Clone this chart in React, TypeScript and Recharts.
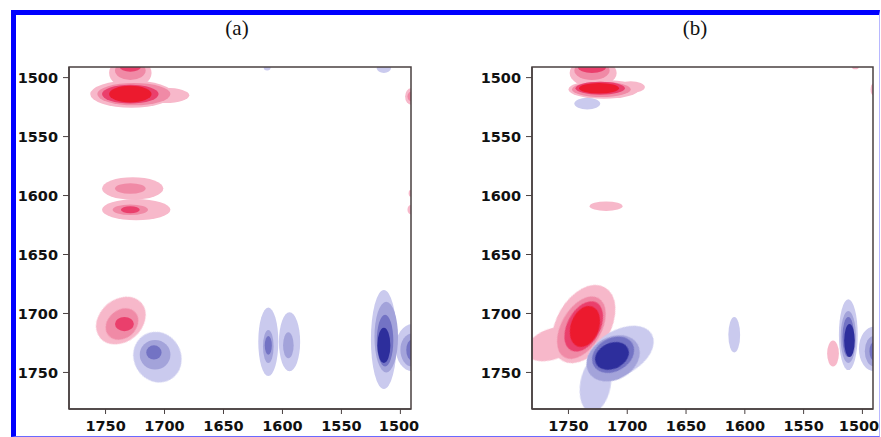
import React from "react";
import { ScatterChart, Scatter, XAxis, YAxis, ReferenceArea } from "recharts";

const axisTicks = [1750, 1700, 1650, 1600, 1550, 1500];
const axisDomain: [number, number] = [1491, 1781];

// one contour = [x (cm-1), y (cm-1), half-width, half-height, level (+ red / - blue), tilt deg]
type Contour = [number, number, number, number, number, number?];

// (a) synchronous-like map
const contoursA: Contour[] = [
  // 1514 red band + neck to top
  [1728, 1514, 35, 11.5, 1],
  [1699, 1515, 20, 6.5, 1],
  [1729, 1496, 18, 13, 1],
  [1726, 1514, 31, 9.5, 2],
  [1729, 1494, 13, 8, 2],
  [1729, 1514, 24, 8, 3],
  [1729, 1491, 9, 4, 3],
  [1729, 1514, 18, 7, 4],
  // 1594 / 1612 red pair
  [1727, 1594, 26, 9.5, 1],
  [1724, 1612, 29, 9, 1],
  [1729, 1594, 13, 4.5, 2],
  [1729, 1612, 15, 4.5, 2],
  [1729, 1612, 8, 3, 3],
  // 1709 red
  [1737, 1706, 23, 18, 1, -40],
  [1736, 1709, 15, 12, 2, -40],
  [1734, 1709, 8, 6, 3],
  // 1735 blue
  [1706, 1737, 20, 22, -1, -30],
  [1708, 1735, 13, 12.5, -2],
  [1709, 1733, 6.5, 6, -3],
  // 1612 / 1594 blue pair
  [1612, 1724, 8.5, 29, -1],
  [1594, 1724, 9, 25, -1],
  [1612, 1728, 4.5, 14, -2],
  [1595, 1727, 4.5, 11, -2],
  [1612, 1727, 3, 8, -3],
  // 1513 blue + shoulder to edge
  [1514, 1722, 11, 42, -1],
  [1490, 1729, 14, 20, -1],
  [1512, 1720, 10, 30, -2],
  [1490, 1731, 10, 14, -2],
  [1513, 1723, 7, 22, -3],
  [1490, 1731, 5, 9, -3],
  [1514, 1727, 5.5, 15, -4],
  // small bits
  [1613, 1491, 3, 3, -1],
  [1514, 1492, 6, 4, -1],
  [1491, 1516, 5, 7, 1],
  [1491, 1516, 3, 4, 2],
  [1491, 1598, 2, 3, 1],
  [1491, 1612, 3, 4, 1],
];

// (b) asynchronous-like map
const contoursB: Contour[] = [
  // 1510 red + neck
  [1720, 1510, 30, 8, 1],
  [1729, 1496, 20, 12, 1],
  [1697, 1508, 12, 5, 1],
  [1722, 1510, 25, 6.5, 2],
  [1730, 1494, 15, 8, 2],
  [1723, 1509, 21, 5.5, 3],
  [1730, 1491, 12, 5, 3],
  [1724, 1509, 17, 4.5, 4],
  // 1522 blue, 1609 red
  [1734, 1522, 11, 5, -1],
  [1718, 1609, 14, 4, 1],
  // 1710 red with tail to the left
  [1737, 1709, 23, 36, 1, 30],
  [1764, 1726, 23, 13, 1, -20],
  [1739, 1712, 17, 29, 2, 30],
  [1737, 1711, 14, 23, 3, 28],
  [1736, 1711, 12, 18, 4, 20],
  // 1735 blue with tail down
  [1706, 1733, 31, 19, -1, -30],
  [1727, 1760, 13, 24, -1, 10],
  [1712, 1738, 24, 18, -2, -30],
  [1712, 1735, 19, 14, -3, -30],
  [1713, 1736, 15, 11, -4, -25],
  // small ones
  [1609, 1718, 5, 15, -1],
  [1525, 1734, 5, 11, 1],
  // 1512 blue + shoulder
  [1512, 1718, 8, 30, -1],
  [1490, 1730, 13, 19, -1],
  [1512, 1720, 6.5, 22, -2],
  [1490, 1732, 8, 13, -2],
  [1512, 1720, 5, 17, -3],
  [1490, 1732, 4, 8, -3],
  [1511, 1723, 4.5, 14, -4],
  [1506, 1491, 3, 2, 1],
  [1491, 1510, 2, 5, 1],
];

const redLevels = ["#f7b8ca", "#f08aa6", "#ea3f6c", "#ec1a2e"];
const blueLevels = ["#cacaee", "#a3a3da", "#7373c4", "#2d2e9c"];

const levelColor = (lv: number) =>
  lv > 0 ? redLevels[lv - 1] : blueLevels[-lv - 1];

// ellipse drawn inside the rect ReferenceArea gets from the axes
function Blob(props: any) {
  const { x, y, width, height, fill, rot, clipPath } = props;
  if (!width || !height) return null;
  const cx = x + width / 2;
  const cy = y + height / 2;
  return (
    <g clipPath={clipPath}>
      <ellipse
        cx={cx}
        cy={cy}
        rx={Math.abs(width) / 2}
        ry={Math.abs(height) / 2}
        fill={fill}
        style={{ filter: "blur(0.7px)" }}
        transform={rot ? `rotate(${rot} ${cx} ${cy})` : undefined}
      />
    </g>
  );
}

const tickStyle = {
  fill: "#111",
  fontSize: 14.5,
  fontWeight: "bold",
  fontFamily: "DejaVu Sans",
};

// keeps the last x label inside the chart box
function XTick(props: any) {
  const { x, y, payload, chartWidth } = props;
  const cx = Math.min(x, chartWidth - 21);
  return (
    <text x={cx} y={y} dy="0.71em" textAnchor="middle" {...tickStyle}>
      {payload.value}
    </text>
  );
}

function Panel({
  contours,
  left,
  marginLeft,
  marginRight,
}: {
  contours: Contour[];
  left: number;
  marginLeft: number;
  marginRight: number;
}) {
  const sorted = [...contours].sort((a, b) => Math.abs(a[4]) - Math.abs(b[4]));
  const peaks = contours.map((c) => ({ x: c[0], y: c[1] }));
  return (
    <div style={{ position: "absolute", left, top: 0 }}>
      <ScatterChart
        width={420}
        height={437}
        margin={{ top: 67, right: marginRight, bottom: 0, left: marginLeft }}
      >
        <XAxis
          type="number"
          dataKey="x"
          domain={axisDomain}
          ticks={axisTicks}
          interval={0}
          reversed
          allowDataOverflow
          height={28}
          tickSize={5}
          tickMargin={7}
          tick={(p: any) => <XTick {...p} chartWidth={420} />}
          axisLine={{ stroke: "#4a4040", strokeWidth: 1.5 }}
          tickLine={{ stroke: "#4a4040" }}
        />
        <YAxis
          type="number"
          dataKey="y"
          domain={axisDomain}
          ticks={axisTicks}
          interval={0}
          reversed
          allowDataOverflow
          width={60}
          tickSize={6}
          tickMargin={5}
          tick={tickStyle}
          axisLine={{ stroke: "#4a4040", strokeWidth: 1.5 }}
          tickLine={{ stroke: "#4a4040" }}
        />
        <Scatter
          data={peaks}
          isAnimationActive={false}
          shape={() => <g />}
        />
        {sorted.map((c, i) => (
          <ReferenceArea
            key={i}
            x1={c[0] - c[2]}
            x2={c[0] + c[2]}
            y1={c[1] - c[3]}
            y2={c[1] + c[3]}
            ifOverflow="hidden"
            shape={(p: any) => (
              <Blob {...p} fill={levelColor(c[4])} rot={c[5] || 0} />
            )}
          />
        ))}
        <ReferenceArea
          x1={axisDomain[0]}
          x2={axisDomain[1]}
          y1={axisDomain[0]}
          y2={axisDomain[1]}
          ifOverflow="visible"
          fill="none"
          stroke="#4a4040"
          strokeWidth={1.5}
        />
      </ScatterChart>
    </div>
  );
}

const titleStyle: React.CSSProperties = {
  position: "absolute",
  top: 16,
  transform: "translateX(-50%)",
  fontFamily: "Liberation Serif",
  fontSize: 21,
  color: "#111",
};

export default function App() {
  return (
    <div
      style={{
        position: "absolute",
        left: 0,
        top: 0,
        width: 881,
        height: 437,
        overflow: "hidden",
        background: "#fff",
      }}
    >
      <style>{"body{margin:0}"}</style>
      <Panel contours={contoursA} left={0} marginLeft={9} marginRight={9} />
      <Panel contours={contoursB} left={460} marginLeft={12} marginRight={7} />
      <div style={{ ...titleStyle, left: 237 }}>(a)</div>
      <div style={{ ...titleStyle, left: 695 }}>(b)</div>
      <div
        style={{
          position: "absolute",
          left: 11,
          top: 10,
          width: 869,
          height: 427,
          boxSizing: "border-box",
          borderTop: "5px solid #0000ff",
          borderLeft: "5px solid #0000ff",
          borderRight: "1px solid #b8b8ff",
          borderBottom: "1px solid #6a6aff",
          pointerEvents: "none",
        }}
      />
    </div>
  );
}
